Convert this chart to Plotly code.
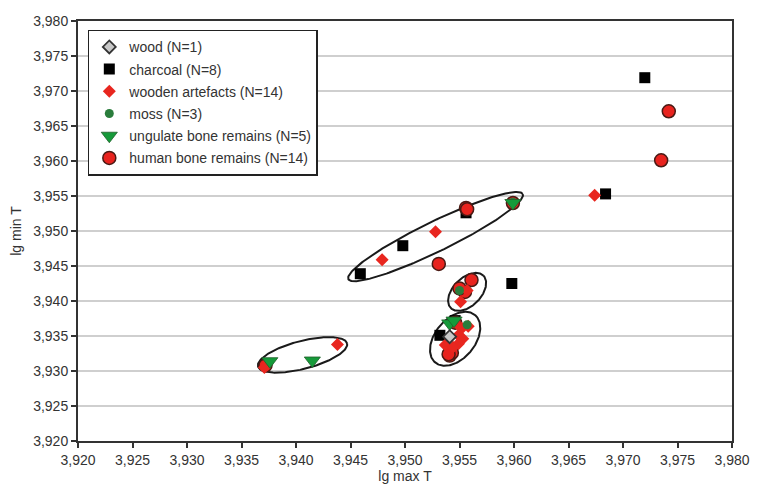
import numpy as np
import plotly.graph_objects as go

# ---- data (lg max T, lg min T) ----
wood_x = [3.9541]
wood_y = [3.9349]

charcoal_x = [3.9720, 3.9684, 3.9556, 3.9498, 3.9459, 3.9598, 3.9532, 3.9546]
charcoal_y = [3.9719, 3.9553, 3.9526, 3.9479, 3.9439, 3.9425, 3.9351, 3.9372]

artefact_x = [3.9479, 3.9528, 3.9674, 3.9438, 3.9551, 3.9549, 3.9553, 3.9549,
              3.9537, 3.9552, 3.9557, 3.9371, 3.9558, 3.9544]
artefact_y = [3.9459, 3.9499, 3.9551, 3.9338, 3.9399, 3.9351, 3.9346, 3.9339,
              3.9337, 3.9361, 3.9415, 3.9305, 3.9364, 3.9334]

moss_x = [3.9550, 3.9557, 3.9599]
moss_y = [3.9415, 3.9366, 3.9541]

ungulate_x = [3.9376, 3.9415, 3.9599, 3.9541, 3.9545]
ungulate_y = [3.9314, 3.9315, 3.9540, 3.9368, 3.9372]

human_x = [3.9742, 3.9735, 3.9556, 3.9531, 3.9561, 3.9541, 3.9599, 3.9372,
           3.9555, 3.9546, 3.9543, 3.9540, 3.9557, 3.9550]
human_y = [3.9671, 3.9601, 3.9533, 3.9453, 3.9430, 3.9322, 3.9540, 3.9308,
           3.9413, 3.9369, 3.9326, 3.9324, 3.9531, 3.9418]

# cluster ellipses: centre x, centre y, semi-axes (px), tilt (deg)
ell_cx = [3.9528, 3.9406, 3.9557, 3.9546]
ell_cy = [3.9492, 3.9323, 3.9413, 3.9346]
ell_a = [97, 46, 23, 31]
ell_b = [15, 14, 14, 20]
ell_ang = [26, 14.5, 45, 50]

x_range = [3.920, 3.980]
y_range = [3.920, 3.980]
tick_vals = [3.920 + 0.005 * i for i in range(13)]

# page body has an 8 px margin, so the figure is 8 px smaller
W, H = 753, 485
ML, MR, MT, MB = 70, 29, 13, 52
pxx = (W - ML - MR) / (x_range[1] - x_range[0])
pxy = (H - MT - MB) / (y_range[1] - y_range[0])

fig = go.Figure()

t = np.linspace(0, 2 * np.pi, 200)
for cx, cy, a, b, ang in zip(ell_cx, ell_cy, ell_a, ell_b, ell_ang):
    th = np.radians(ang)
    dx = a * np.cos(t) * np.cos(th) - b * np.sin(t) * np.sin(th)
    dy = a * np.cos(t) * np.sin(th) + b * np.sin(t) * np.cos(th)
    fig.add_trace(go.Scatter(x=cx + dx / pxx, y=cy + dy / pxy, mode="lines",
                             line=dict(color="#1a1a1a", width=2),
                             showlegend=False, hoverinfo="skip"))

fig.add_trace(go.Scatter(x=charcoal_x, y=charcoal_y, mode="markers", name="charcoal (N=8)",
                         legendrank=2, legendgroup="b",
                         marker=dict(symbol="square", size=11, color="#000000",
                                     line=dict(width=0))))
fig.add_trace(go.Scatter(x=human_x, y=human_y, mode="markers", name="human bone remains (N=14)",
                         legendrank=6, legendgroup="f",
                         marker=dict(symbol="circle", size=13, color="#e8231e",
                                     line=dict(width=1.5, color="#4a1a14"))))
fig.add_trace(go.Scatter(x=artefact_x, y=artefact_y, mode="markers", name="wooden artefacts (N=14)",
                         legendrank=3, legendgroup="c",
                         marker=dict(symbol="diamond", size=10, color="#e8261f",
                                     line=dict(width=0))))
fig.add_trace(go.Scatter(x=moss_x, y=moss_y, mode="markers", name="moss (N=3)",
                         legendrank=4, legendgroup="d",
                         marker=dict(symbol="circle", size=9, color="#2a7d3c",
                                     line=dict(width=0))))
fig.add_trace(go.Scatter(x=ungulate_x, y=ungulate_y, mode="markers", name="ungulate bone remains (N=5)",
                         legendrank=5, legendgroup="e",
                         marker=dict(symbol="triangle-down", size=14, color="#169a3a",
                                     line=dict(width=0.8, color="#1f5f2a"))))
fig.add_trace(go.Scatter(x=wood_x, y=wood_y, mode="markers", name="wood (N=1)",
                         legendrank=1, legendgroup="a",
                         marker=dict(symbol="diamond", size=10, color="#c8c8c8",
                                     line=dict(width=1.8, color="#333333"))))

axis_common = dict(
    tickvals=tick_vals, tickformat=".3f",
    ticks="outside", ticklen=5, tickwidth=1.5, tickcolor="#333333",
    showline=True, linecolor="#333333", linewidth=2, mirror=True,
    tickfont=dict(size=14, color="#333333"), zeroline=False,
)
fig.update_xaxes(**axis_common)
fig.update_yaxes(**axis_common)
fig.update_xaxes(range=x_range, showgrid=False, automargin=True,
                 title=dict(text="lg max T", font=dict(size=14, color="#333333"), standoff=4))
fig.update_yaxes(range=y_range, showgrid=True, gridcolor="#cfcfcf", gridwidth=2,
                 automargin=False,
                 title=dict(text="lg min T", font=dict(size=14, color="#333333"), standoff=10))

fig.update_layout(
    width=W, height=H,
    margin=dict(l=ML, r=MR, t=MT, b=MB, autoexpand=False),
    paper_bgcolor="white", plot_bgcolor="white",
    separators=", ",
    font=dict(family="Liberation Sans, Arial, sans-serif", color="#333333"),
    showlegend=True,
    legend=dict(x=0.015, y=0.979, xanchor="left", yanchor="top",
                bgcolor="white", bordercolor="#222222", borderwidth=1.5,
                font=dict(size=14, color="#333333"), tracegroupgap=1,
                itemclick=False),
)

fig.write_html("out.html")
